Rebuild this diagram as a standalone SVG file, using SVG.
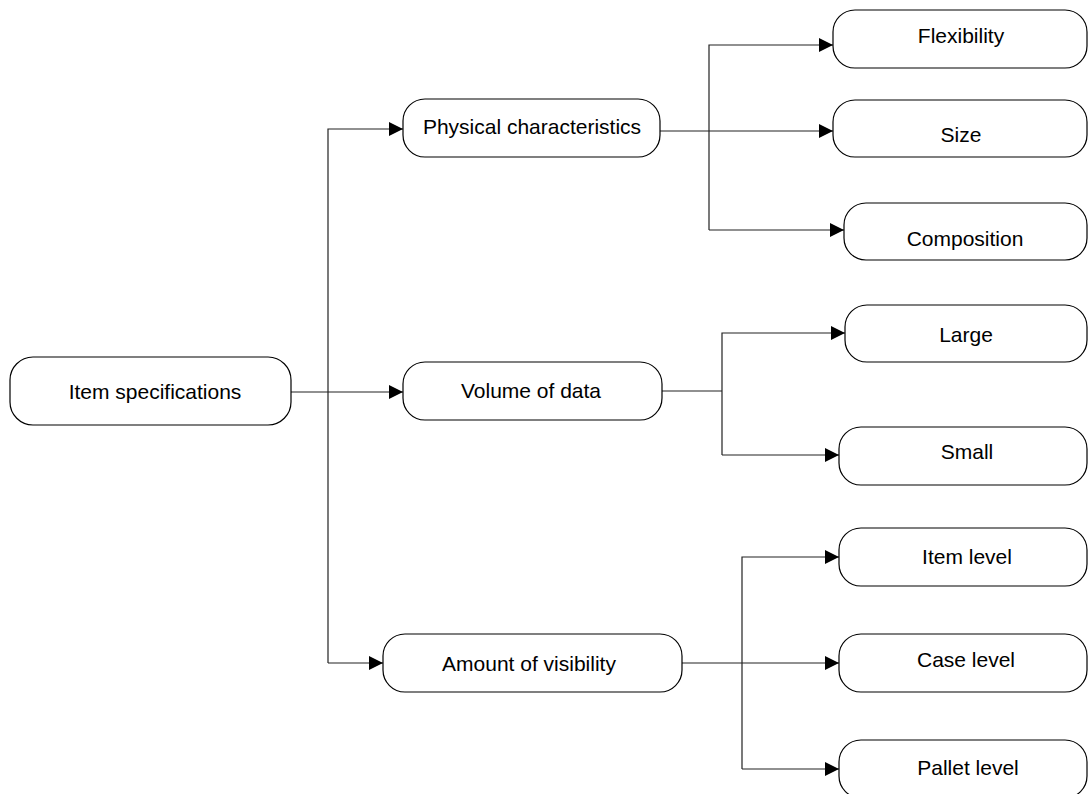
<svg xmlns="http://www.w3.org/2000/svg" width="1088" height="794" viewBox="0 0 1088 794">
  <style>
    .box { fill: #ffffff; stroke: #000000; stroke-width: 1.2; }
    .lbl { font-family: "Liberation Sans", Arial, sans-serif; font-size: 21px; fill: #000000; text-anchor: middle; }
    .conn { fill: none; stroke: #222222; stroke-width: 1.2; }
  </style>
  <defs>
    <marker id="arrow" markerWidth="15" markerHeight="15" refX="14" refY="7" orient="auto" markerUnits="userSpaceOnUse">
      <path d="M0,0 L14,7 L0,14 Z" fill="#000000"/>
    </marker>
  </defs>
  <rect width="1088" height="794" fill="#ffffff"/>

  <!-- connectors -->
  <g id="connectors">
    <!-- root to second level -->
    <path class="conn" d="M291,392 H403" marker-end="url(#arrow)"/>
    <path class="conn" d="M328,663 V129 H403" marker-end="url(#arrow)"/>
    <path class="conn" d="M328,663 H383" marker-end="url(#arrow)"/>
    <!-- physical characteristics branch -->
    <path class="conn" d="M660,131 H833" marker-end="url(#arrow)"/>
    <path class="conn" d="M709,230 V45 H833" marker-end="url(#arrow)"/>
    <path class="conn" d="M709,230 H844" marker-end="url(#arrow)"/>
    <!-- volume of data branch -->
    <path class="conn" d="M662,391 H722"/>
    <path class="conn" d="M722,455 V333 H845" marker-end="url(#arrow)"/>
    <path class="conn" d="M722,455 H839" marker-end="url(#arrow)"/>
    <!-- amount of visibility branch -->
    <path class="conn" d="M682,663 H839" marker-end="url(#arrow)"/>
    <path class="conn" d="M742,769 V557 H839" marker-end="url(#arrow)"/>
    <path class="conn" d="M742,769 H839" marker-end="url(#arrow)"/>
  </g>

  <g id="item-specifications">
    <rect class="box" x="10" y="357" width="281" height="68" rx="23"/>
    <text class="lbl" x="155" y="399">Item specifications</text>
  </g>

  <g id="physical-characteristics">
    <rect class="box" x="403" y="99" width="257" height="58" rx="22"/>
    <text class="lbl" x="532" y="134">Physical characteristics</text>
  </g>
  <g id="volume-of-data">
    <rect class="box" x="403" y="362" width="259" height="58" rx="22"/>
    <text class="lbl" x="531" y="398">Volume of data</text>
  </g>
  <g id="amount-of-visibility">
    <rect class="box" x="383" y="634" width="299" height="58" rx="22"/>
    <text class="lbl" x="529" y="671">Amount of visibility</text>
  </g>

  <g id="flexibility">
    <rect class="box" x="833" y="10" width="254" height="58" rx="22"/>
    <text class="lbl" x="961" y="43">Flexibility</text>
  </g>
  <g id="size">
    <rect class="box" x="833" y="100" width="254" height="57" rx="22"/>
    <text class="lbl" x="961" y="142">Size</text>
  </g>
  <g id="composition">
    <rect class="box" x="844" y="203" width="243" height="57" rx="22"/>
    <text class="lbl" x="965" y="246">Composition</text>
  </g>

  <g id="large">
    <rect class="box" x="845" y="305" width="242" height="57" rx="22"/>
    <text class="lbl" x="966" y="342">Large</text>
  </g>
  <g id="small">
    <rect class="box" x="839" y="427" width="248" height="58" rx="22"/>
    <text class="lbl" x="967" y="459">Small</text>
  </g>

  <g id="item-level">
    <rect class="box" x="839" y="528" width="248" height="58" rx="22"/>
    <text class="lbl" x="967" y="564">Item level</text>
  </g>
  <g id="case-level">
    <rect class="box" x="839" y="634" width="248" height="58" rx="22"/>
    <text class="lbl" x="966" y="667">Case level</text>
  </g>
  <g id="pallet-level">
    <rect class="box" x="839" y="740" width="248" height="58" rx="22"/>
    <text class="lbl" x="968" y="775">Pallet level</text>
  </g>
</svg>
